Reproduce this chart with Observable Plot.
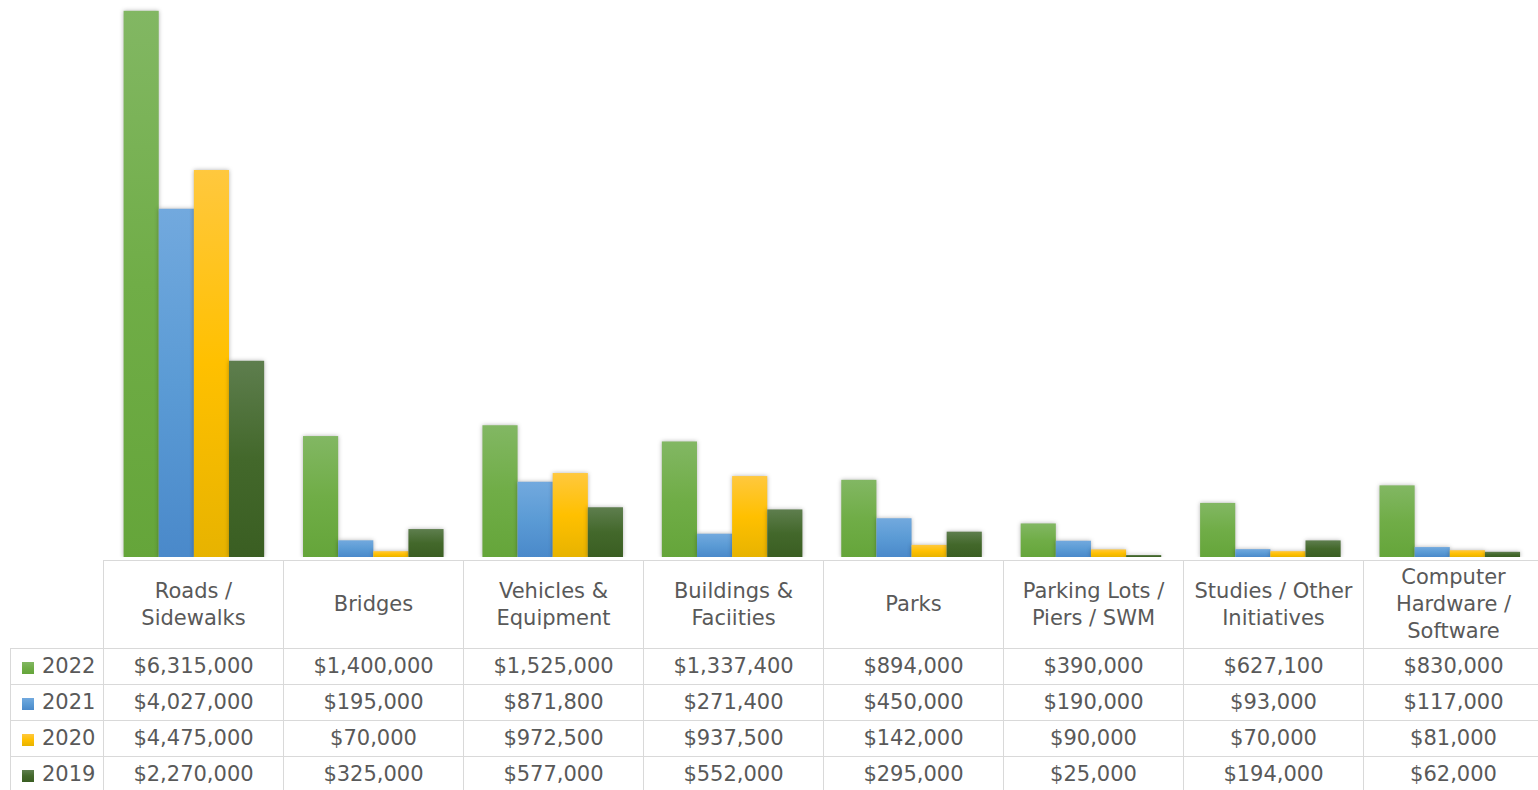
<!DOCTYPE html>
<html>
<head>
<meta charset="utf-8">
<script src="https://cdn.jsdelivr.net/npm/d3@7"></script>
<script src="https://cdn.jsdelivr.net/npm/@observablehq/plot@0.6"></script>
<style>
  html, body { margin: 0; padding: 0; background: #fff; overflow: hidden; width: 1538px; height: 790px; }
  #chart { position: absolute; left: 0; top: 0; }
  #chart g[aria-label="bar"] rect { filter: drop-shadow(0px 0px 2px rgba(0,0,0,0.3)); }
  table { position: absolute; left: 10px; top: 560px; border-collapse: collapse; table-layout: fixed; width: 1533px;
          font-family: "DejaVu Sans", sans-serif; font-size: 21px; color: #595959; }
  td { border: 1px solid #d9d9d9; text-align: center; padding: 0; white-space: pre-line; overflow: hidden; }
  tr.head td { height: 87px; line-height: 27px; }
  tr.head td.blank { border: none; }
  tr.row td { height: 35px; line-height: 35px; }
  td.lab { text-align: left; padding-left: 11px; white-space: nowrap; }
  .sw { display: inline-block; width: 12px; height: 12px; margin-right: 8px; vertical-align: -1px; }
</style>
</head>
<body>
<div id="chart"></div>
<script>
// ---- data ----
const categories = [
  "Roads /\nSidewalks",
  "Bridges",
  "Vehicles &\nEquipment",
  "Buildings &\nFaciities",
  "Parks",
  "Parking Lots /\nPiers / SWM",
  "Studies / Other\nInitiatives",
  "Computer\nHardware /\nSoftware"
];
const years = ["2022", "2021", "2020", "2019"];
const values2022 = [6315000, 1400000, 1525000, 1337400, 894000, 390000, 627100, 830000];
const values2021 = [4027000, 195000, 871800, 271400, 450000, 190000, 93000, 117000];
const values2020 = [4475000, 70000, 972500, 937500, 142000, 90000, 70000, 81000];
const values2019 = [2270000, 325000, 577000, 552000, 295000, 25000, 194000, 62000];
const seriesValues = [values2022, values2021, values2020, values2019];

// ---- styles ----
const gradStops = [
  ["#82b763", "#70ad47", "#65a53a"],
  ["#72a9de", "#5b9bd5", "#4a89ca"],
  ["#ffc83e", "#ffc000", "#e7b300"],
  ["#5e7e4e", "#43682b", "#3a5e22"]
];

const data = [];
years.forEach((y, i) => categories.forEach((c, j) => data.push({category: c, year: y, value: seriesValues[i][j]})));

const chart = Plot.plot({
  width: 1543,
  height: 559,
  marginLeft: 103,
  marginRight: 0,
  marginTop: 0,
  marginBottom: 0,
  fx: {domain: categories, padding: 0, axis: null},
  x: {domain: years, padding: 0, round: false, range: [124, 265], axis: null},
  y: {domain: [0, 6.44e6], axis: null},
  color: {domain: years, range: years.map(y => `url(#grad${y})`)},
  marks: [
    Plot.barY(data, {fx: "category", x: "year", y: "value", fill: "year"})
  ]
});

// gradient defs
const ns = "http://www.w3.org/2000/svg";
const defs = document.createElementNS(ns, "defs");
years.forEach((y, i) => {
  const g = document.createElementNS(ns, "linearGradient");
  g.setAttribute("id", "grad" + y);
  g.setAttribute("x1", "0"); g.setAttribute("y1", "0");
  g.setAttribute("x2", "0"); g.setAttribute("y2", "1");
  [0, 0.5, 1].forEach((o, k) => {
    const s = document.createElementNS(ns, "stop");
    s.setAttribute("offset", o);
    s.setAttribute("stop-color", gradStops[i][k]);
    g.appendChild(s);
  });
  defs.appendChild(g);
});
chart.prepend(defs);
document.getElementById("chart").appendChild(chart);

// data table below the chart
const fmt = d3.format("$,");
const table = document.createElement("table");
const colgroup = document.createElement("colgroup");
[93, ...categories.map(() => 180)].forEach(w => {
  const col = document.createElement("col");
  col.style.width = w + "px";
  colgroup.appendChild(col);
});
table.appendChild(colgroup);
const head = document.createElement("tr");
head.className = "head";
const blank = document.createElement("td");
blank.className = "blank";
head.appendChild(blank);
categories.forEach(c => {
  const td = document.createElement("td");
  td.textContent = c;
  head.appendChild(td);
});
table.appendChild(head);
years.forEach((y, i) => {
  const tr = document.createElement("tr");
  tr.className = "row";
  const lab = document.createElement("td");
  lab.className = "lab";
  const sw = document.createElement("span");
  sw.className = "sw";
  sw.style.background = `linear-gradient(${gradStops[i][0]}, ${gradStops[i][1]}, ${gradStops[i][2]})`;
  lab.appendChild(sw);
  lab.appendChild(document.createTextNode(y));
  tr.appendChild(lab);
  seriesValues[i].forEach(v => {
    const td = document.createElement("td");
    td.textContent = fmt(v);
    tr.appendChild(td);
  });
  table.appendChild(tr);
});
document.body.appendChild(table);
</script>
</body>
</html>
